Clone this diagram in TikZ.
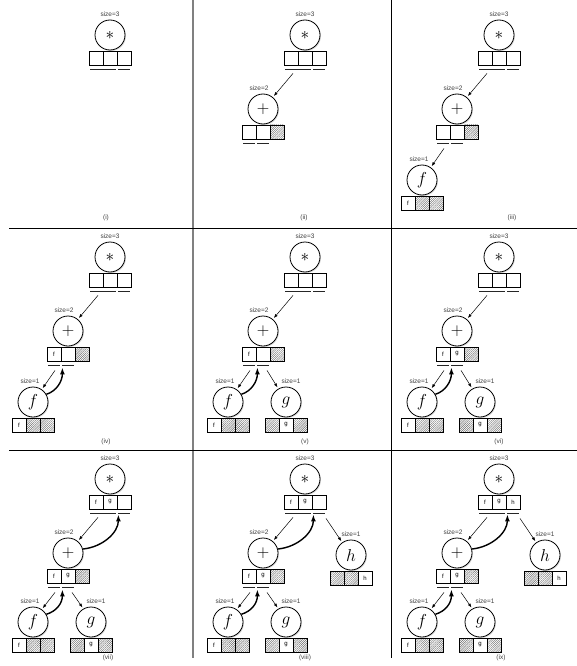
\documentclass[tikz,border=0pt]{standalone}
\usepackage{fontspec}
\setsansfont{Liberation Sans}
\usetikzlibrary{arrows.meta,shadows,patterns.meta}

\tikzset{
  opcirc/.style={circle,draw,line width=0.8pt,fill=white,minimum size=30pt,inner sep=0pt,
    font=\fontsize{18}{18}\selectfont,
    drop shadow={shadow xshift=1pt,shadow yshift=-1pt,opacity=0.3}},
  cell/.style={draw,line width=0.8pt,fill=white,minimum size=14pt,inner sep=0pt,
    font=\sffamily\fontsize{6}{6}\selectfont,
    drop shadow={shadow xshift=1pt,shadow yshift=-1pt,opacity=0.3}},
  hatch/.style={cell,preaction={fill=white},
    pattern={Lines[angle=45,distance=1.5pt,line width=0.4pt]},pattern color=black!60},
  sizelbl/.style={inner sep=0pt,text=black!75,font=\sffamily\fontsize{6.5}{7}\selectfont},
  uline/.style={line width=0.9pt,black!85},
  callarrow/.style={-{Latex[length=4pt,width=3pt]},line width=0.5pt,shorten >=1.5pt},
  retarrow/.style={-{Latex[length=7pt,width=5pt]},line width=1.4pt},
}

% operator circle, size label and its three cells
\newcommand{\opnode}[6]{%
  \node[opcirc] (#1) at (#2) {$#3$};
  \node[sizelbl] at ([xshift=#5,yshift=21pt]#1.center) {size=#4};
  \foreach \kind/\txt [count=\i] in {#6}
    \node[\kind] (#1-\i) at ([xshift={(\i-2)*14pt},yshift=-23pt]#1.center) {\txt};
}
% bar under the cells of one child
\newcommand{\seg}[2]{%
  \draw[uline] ([xshift=1.5pt,yshift=-4pt]#1.south west) -- ([xshift=-1.5pt,yshift=-4pt]#2.south east);
}

\begin{document}
\begin{tikzpicture}[x=1pt,y=-1pt]
\useasboundingbox (0,0) rectangle (577,666);

% Frame
\draw[gray,line width=1.6pt] (193,0) -- (193,658);
\draw[line width=0.8pt] (391,0) -- (391,658);
\draw[line width=0.8pt] (9,228) -- (577,228);
\draw[line width=0.8pt] (9,450) -- (577,450);

% (i)
\begin{scope}
  \opnode{t1}{110,35}{\ast}{3}{0pt}{cell/,cell/,cell/}
  \seg{t1-1}{t1-2} \seg{t1-3}{t1-3}
  \node[sizelbl] (cap1) at (106,218) {(i)};
\end{scope}

% (ii)
\begin{scope}[shift={(195,0)}]
  \opnode{t2}{110,35}{\ast}{3}{0pt}{cell/,cell/,cell/}
  \opnode{p2}{68,109}{+}{2}{-4pt}{cell/,cell/,hatch/}
  \seg{t2-1}{t2-2} \seg{t2-3}{t2-3}
  \seg{p2-1}{p2-1} \seg{p2-2}{p2-2}
  \draw[callarrow] ([xshift=2pt,yshift=-8pt]t2-1.south) -- (p2.50);
  \node[sizelbl] (cap2) at (109,218) {(ii)};
\end{scope}

% (iii)
\begin{scope}[shift={(389,0)}]
  \opnode{t3}{110,35}{\ast}{3}{0pt}{cell/,cell/,cell/}
  \opnode{p3}{68,109}{+}{2}{-4pt}{cell/,cell/,hatch/}
  \opnode{f3}{33,180}{f}{1}{-3pt}{cell/f,hatch/,hatch/}
  \seg{t3-1}{t3-2} \seg{t3-3}{t3-3}
  \seg{p3-1}{p3-1} \seg{p3-2}{p3-2}
  \draw[callarrow] ([xshift=2pt,yshift=-8pt]t3-1.south) -- (p3.50);
  \draw[callarrow] ([xshift=1pt,yshift=-9pt]p3-1.south) -- (f3.55);
  \node[sizelbl] (cap3) at (123,218) {(iii)};
\end{scope}

% (iv)
\begin{scope}[shift={(0,222)}]
  \opnode{t4}{110,35}{\ast}{3}{0pt}{cell/,cell/,cell/}
  \opnode{p4}{68,109}{+}{2}{-4pt}{cell/f,cell/,hatch/}
  \opnode{f4}{33,180}{f}{1}{-3pt}{cell/f,hatch/,hatch/}
  \seg{t4-1}{t4-2} \seg{t4-3}{t4-3}
  \seg{p4-1}{p4-1} \seg{p4-2}{p4-2}
  \draw[callarrow] ([xshift=2pt,yshift=-8pt]t4-1.south) -- (p4.50);
  \draw[callarrow] ([xshift=1pt,yshift=-9pt]p4-1.south) -- (f4.55);
  \draw[retarrow] (f4.30) .. controls +(10,-3) and +(0,14) .. ([xshift=1pt,yshift=-6pt]p4-1.south east);
  \node[sizelbl] (cap4) at (106,220) {(iv)};
\end{scope}

% (v)
\begin{scope}[shift={(195,222)}]
  \opnode{t5}{110,35}{\ast}{3}{0pt}{cell/,cell/,cell/}
  \opnode{p5}{68,109}{+}{2}{-4pt}{cell/f,cell/,hatch/}
  \opnode{f5}{33,180}{f}{1}{-3pt}{cell/f,hatch/,hatch/}
  \opnode{g5}{91,180}{g}{1}{5pt}{hatch/,cell/g,hatch/}
  \seg{t5-1}{t5-2} \seg{t5-3}{t5-3}
  \seg{p5-1}{p5-1} \seg{p5-2}{p5-2}
  \draw[callarrow] ([xshift=2pt,yshift=-8pt]t5-1.south) -- (p5.50);
  \draw[callarrow] ([xshift=1pt,yshift=-9pt]p5-1.south) -- (f5.55);
  \draw[callarrow] ([xshift=4pt,yshift=-9pt]p5-2.south) -- (g5.120);
  \draw[retarrow] (f5.30) .. controls +(10,-3) and +(0,14) .. ([xshift=1pt,yshift=-6pt]p5-1.south east);
  \node[sizelbl] (cap5) at (110,220) {(v)};
\end{scope}

% (vi)
\begin{scope}[shift={(389,222)}]
  \opnode{t6}{110,35}{\ast}{3}{0pt}{cell/,cell/,cell/}
  \opnode{p6}{68,109}{+}{2}{-4pt}{cell/f,cell/g,hatch/}
  \opnode{f6}{33,180}{f}{1}{-3pt}{cell/f,hatch/,hatch/}
  \opnode{g6}{91,180}{g}{1}{5pt}{hatch/,cell/g,hatch/}
  \seg{t6-1}{t6-2} \seg{t6-3}{t6-3}
  \seg{p6-1}{p6-1} \seg{p6-2}{p6-2}
  \draw[callarrow] ([xshift=2pt,yshift=-8pt]t6-1.south) -- (p6.50);
  \draw[callarrow] ([xshift=1pt,yshift=-9pt]p6-1.south) -- (f6.55);
  \draw[callarrow] ([xshift=4pt,yshift=-9pt]p6-2.south) -- (g6.120);
  \draw[retarrow] (f6.30) .. controls +(10,-3) and +(0,14) .. ([xshift=1pt,yshift=-6pt]p6-1.south east);
  \node[sizelbl] (cap6) at (110,220) {(vi)};
\end{scope}

% (vii)
\begin{scope}[shift={(0,444)}]
  \opnode{t7}{110,35}{\ast}{3}{0pt}{cell/f,cell/g,cell/}
  \opnode{p7}{68,109}{+}{2}{-4pt}{cell/f,cell/g,hatch/}
  \opnode{f7}{33,178}{f}{1}{-3pt}{cell/f,hatch/,hatch/}
  \opnode{g7}{91,178}{g}{1}{5pt}{hatch/,cell/g,hatch/}
  \seg{t7-1}{t7-2} \seg{t7-3}{t7-3}
  \seg{p7-1}{p7-1} \seg{p7-2}{p7-2}
  \draw[callarrow] ([xshift=2pt,yshift=-8pt]t7-1.south) -- (p7.50);
  \draw[callarrow] ([xshift=1pt,yshift=-9pt]p7-1.south) -- (f7.55);
  \draw[callarrow] ([xshift=4pt,yshift=-9pt]p7-2.south) -- (g7.120);
  \draw[retarrow] (f7.30) .. controls +(10,-3) and +(0,14) .. ([xshift=1pt,yshift=-6pt]p7-1.south east);
  \draw[retarrow] (p7.15) .. controls +(20,-2) and +(0,18) .. ([xshift=1pt,yshift=-5pt]t7-2.south east);
  \node[sizelbl] (cap7) at (108,214) {(vii)};
\end{scope}

% (viii)
\begin{scope}[shift={(195,444)}]
  \opnode{t8}{110,35}{\ast}{3}{0pt}{cell/f,cell/g,cell/}
  \opnode{p8}{68,109}{+}{2}{-4pt}{cell/f,cell/g,hatch/}
  \opnode{f8}{33,178}{f}{1}{-3pt}{cell/f,hatch/,hatch/}
  \opnode{g8}{91,178}{g}{1}{5pt}{hatch/,cell/g,hatch/}
  \opnode{h8}{156,111}{h}{1}{0pt}{hatch/,hatch/,cell/h}
  \seg{t8-1}{t8-2} \seg{t8-3}{t8-3}
  \seg{p8-1}{p8-1} \seg{p8-2}{p8-2}
  \draw[callarrow] ([xshift=2pt,yshift=-8pt]t8-1.south) -- (p8.50);
  \draw[callarrow] ([xshift=1pt,yshift=-9pt]p8-1.south) -- (f8.55);
  \draw[callarrow] ([xshift=4pt,yshift=-9pt]p8-2.south) -- (g8.120);
  \draw[callarrow] ([xshift=7pt,yshift=-9pt]t8-3.south) -- (h8.125);
  \draw[retarrow] (f8.30) .. controls +(10,-3) and +(0,14) .. ([xshift=1pt,yshift=-6pt]p8-1.south east);
  \draw[retarrow] (p8.15) .. controls +(20,-2) and +(0,18) .. ([xshift=1pt,yshift=-5pt]t8-2.south east);
  \node[sizelbl] (cap8) at (110,214) {(viii)};
\end{scope}

% (ix)
\begin{scope}[shift={(389,444)}]
  \opnode{t9}{110,35}{\ast}{3}{0pt}{cell/f,cell/g,cell/h}
  \opnode{p9}{68,109}{+}{2}{-4pt}{cell/f,cell/g,hatch/}
  \opnode{f9}{33,178}{f}{1}{-3pt}{cell/f,hatch/,hatch/}
  \opnode{g9}{91,178}{g}{1}{5pt}{hatch/,cell/g,hatch/}
  \opnode{h9}{156,111}{h}{1}{0pt}{hatch/,hatch/,cell/h}
  \seg{t9-1}{t9-2} \seg{t9-3}{t9-3}
  \seg{p9-1}{p9-1} \seg{p9-2}{p9-2}
  \draw[callarrow] ([xshift=2pt,yshift=-8pt]t9-1.south) -- (p9.50);
  \draw[callarrow] ([xshift=1pt,yshift=-9pt]p9-1.south) -- (f9.55);
  \draw[callarrow] ([xshift=4pt,yshift=-9pt]p9-2.south) -- (g9.120);
  \draw[callarrow] ([xshift=7pt,yshift=-9pt]t9-3.south) -- (h9.125);
  \draw[retarrow] (f9.30) .. controls +(10,-3) and +(0,14) .. ([xshift=1pt,yshift=-6pt]p9-1.south east);
  \draw[retarrow] (p9.15) .. controls +(20,-2) and +(0,18) .. ([xshift=1pt,yshift=-5pt]t9-2.south east);
  \node[sizelbl] (cap9) at (112,214) {(ix)};
\end{scope}

\end{tikzpicture}
\end{document}
